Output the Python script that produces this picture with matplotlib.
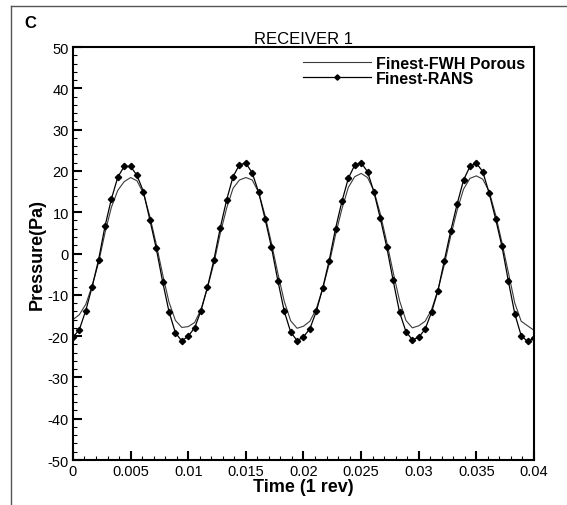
import numpy as np
import matplotlib
matplotlib.use('Agg')
import matplotlib.pyplot as plt
from matplotlib.ticker import MultipleLocator, FuncFormatter
from matplotlib.lines import Line2D

plt.rcParams['font.family'] = ['Liberation Sans', 'DejaVu Sans']
plt.rcParams['axes.unicode_minus'] = False

# time samples, 5 deg steps over one revolution (0.04 s)
n_steps = 72
t = np.linspace(0.0, 0.04, n_steps + 1)

rans = [-20.3, -18.4, -13.8, -8.0, -1.5, 6.6, 13.2, 18.5, 21.1, 21.1, 18.9, 15.0, 8.2, 1.3, -6.8, -14.1, -19.2, -21.2,
        -20.0, -18.0, -13.8, -8.2, -1.6, 6.2, 13.0, 18.6, 21.5, 21.9, 19.5, 14.8, 8.4, 1.5, -6.6, -14.0, -19.0, -21.1,
        -20.2, -18.2, -14.0, -8.4, -1.8, 6.0, 12.6, 18.2, 21.4, 22.0, 19.8, 14.9, 8.5, 1.6, -6.5, -14.2, -18.9, -20.9,
        -20.3, -18.3, -14.2, -9.0, -1.7, 5.5, 12.0, 17.8, 21.1, 21.9, 19.8, 14.6, 8.4, 1.7, -6.7, -14.6, -19.9, -21.3,
        -20.5]

fwh = [-16.0, -14.8, -12.3, -7.8, -2.2, 5.0, 11.2, 15.3, 17.4, 18.4, 17.6, 14.6, 9.0, 2.3, -5.0, -11.8, -16.2, -17.9,
       -17.7, -16.7, -13.5, -8.3, -2.4, 4.8, 11.0, 15.8, 17.8, 18.4, 17.8, 14.8, 9.2, 2.5, -4.8, -11.6, -16.3, -18.1,
       -17.6, -16.4, -13.4, -8.5, -2.6, 4.5, 10.8, 16.0, 18.6, 19.4, 18.4, 15.2, 9.6, 2.8, -4.5, -11.4, -16.2, -18.0,
       -17.5, -16.4, -13.6, -8.8, -2.7, 4.3, 10.5, 15.6, 18.2, 18.8, 18.0, 15.0, 9.4, 2.6, -4.6, -12.0, -16.4, -17.5,
       -18.6]

fig = plt.figure(figsize=(5.67, 5.06), dpi=100)
ax = fig.add_axes([0.1287, 0.0889, 0.8131, 0.8162])

ax.plot(t, fwh, '-', color='#3a3a3a', lw=0.8, label='Finest-FWH Porous')
ax.plot(t, rans, '-', color='black', lw=0.9, marker='D', ms=3.2, label='Finest-RANS')

ax.set_xlim(0, 0.04)
ax.set_ylim(-50, 50)
ax.xaxis.set_major_locator(MultipleLocator(0.005))
ax.xaxis.set_minor_locator(MultipleLocator(0.001))
ax.yaxis.set_major_locator(MultipleLocator(10))
ax.yaxis.set_minor_locator(MultipleLocator(2))
ax.xaxis.set_major_formatter(FuncFormatter(lambda v, p: f'{v:g}'))
ax.tick_params(which='both', direction='in', top=False, right=False, labelsize=10.5)
ax.tick_params(which='major', length=6.5, width=1.5, pad=3)
ax.tick_params(which='minor', length=3.2, width=0.8)
for s in ax.spines.values():
    s.set_linewidth(1.5)

ax.set_xlabel('Time (1 rev)', fontsize=13, fontweight='bold', labelpad=0)
ax.set_ylabel('Pressure(Pa)', fontsize=13, fontweight='bold', labelpad=1)
ax.set_title('RECEIVER 1', fontsize=12, pad=3)

ax.legend(loc='upper right', bbox_to_anchor=(1.0, 1.0), frameon=False,
          prop={'weight': 'bold', 'size': 11.5}, handlelength=4.3, handletextpad=0.3,
          labelspacing=0.0, borderaxespad=0.15, markerscale=0.85)

fig.text(24 / 567, 1 - 24 / 506, 'C', fontsize=12, fontweight='bold', va='center', ha='left')

# panel frame (top and left edges)
fig.add_artist(Line2D([11 / 567, 1.0], [1 - 7 / 506, 1 - 7 / 506], color='#555555', lw=1.0))
fig.add_artist(Line2D([11 / 567, 11 / 567], [0.0, 1 - 7 / 506], color='#555555', lw=1.0))

fig.savefig('out.png', dpi=100)
